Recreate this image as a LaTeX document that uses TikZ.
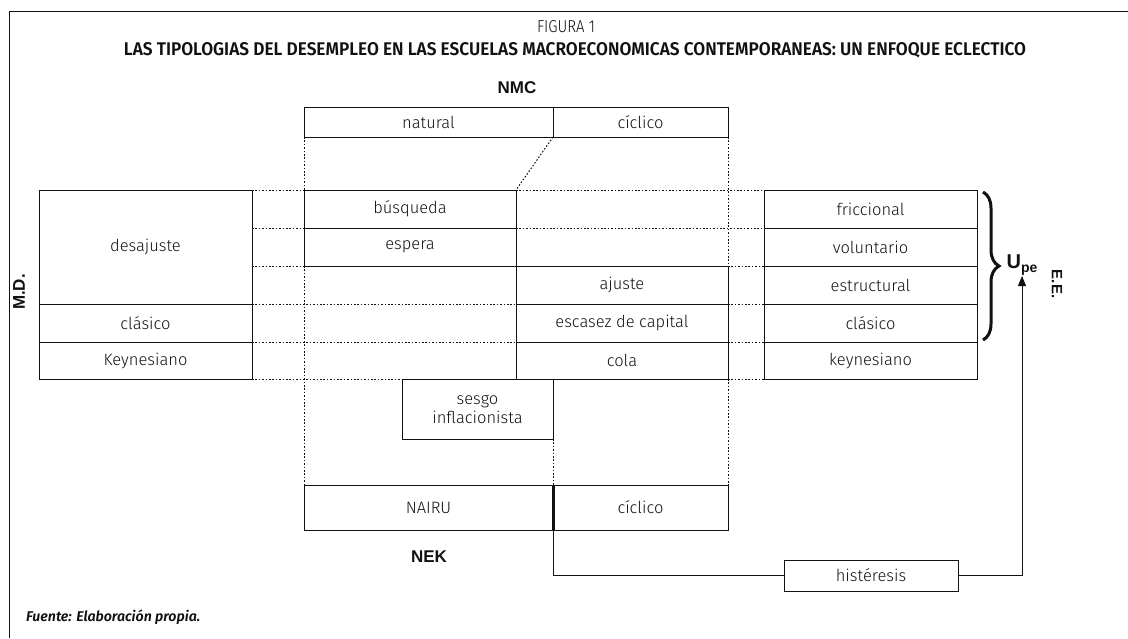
\documentclass[tikz,border=0pt]{standalone}
\usepackage{fontspec}
\setmainfont{Fira Sans Light}[BoldFont={Fira Sans SemiBold},ItalicFont={Fira Sans Light Italic},BoldItalicFont={Fira Sans SemiBold Italic}]
\newfontfamily\arl{Liberation Sans}
\usetikzlibrary{arrows.meta,decorations.pathreplacing}
\definecolor{ink}{HTML}{111111}
\tikzset{
  cell/.style={draw=ink, line width=0.9pt, inner sep=0pt, outer sep=0pt, align=center,
    text=ink, font=\fontsize{16.5}{18}\selectfont},
  guide/.style={draw=ink, line width=1pt, dash pattern=on 1.6pt off 1.8pt},
  solid line/.style={draw=ink, line width=0.9pt},
  lbl/.style={text=ink, inner sep=0pt, font=\arl\bfseries\fontsize{17}{19}\selectfont}
}
\begin{document}
\begin{tikzpicture}[x=1pt,y=-1pt]
\useasboundingbox (0,0) rectangle (1128,638);
% frame
\draw[solid line] (9,638) -- (9,11) -- (1128,11);
% titles
\node[text=ink, inner sep=0pt] (fig) at (566,27) {\resizebox{58pt}{12pt}{FIGURA 1}};
\node[text=ink, inner sep=0pt] (title) at (575,50.5) {\resizebox{902pt}{13pt}{\bfseries LAS TIPOLOGIAS DEL DESEMPLEO EN LAS ESCUELAS MACROECONOMICAS CONTEMPORANEAS: UN ENFOQUE ECLECTICO}};
\node[lbl] (nmc) at (517,88) {NMC};
\node[lbl] (nek) at (429,557) {NEK};
\node[lbl, rotate=90] (md) at (19,292) {M.D.};
\node[lbl, rotate=-90, font=\arl\bfseries\fontsize{15}{17}\selectfont] (ee) at (1057,284) {E.E.};
% top boxes
\node[cell, minimum width=249pt, minimum height=30pt] (nat) at (428.5,122) {natural};
\node[cell, minimum width=175pt, minimum height=30pt] (cic) at (640.5,122) {cíclico};
% left column
\node[cell, minimum width=213pt, minimum height=114pt] (des) at (145.5,247) {desajuste};
\node[cell, minimum width=213pt, minimum height=38pt] (clas) at (145.5,323) {clásico};
\node[cell, minimum width=213pt, minimum height=37pt] (key) at (145.5,360.5) {Keynesiano};
% middle left
\node[cell, minimum width=212pt, minimum height=38pt] (bus) at (410,209) {búsqueda};
\node[cell, minimum width=212pt, minimum height=38pt] (esp) at (410,247) {espera};
% middle right
\node[cell, minimum width=212pt, minimum height=38pt] (aju) at (622,285) {ajuste};
\node[cell, minimum width=212pt, minimum height=38pt] (esc) at (622,323) {escasez de capital};
\node[cell, minimum width=212pt, minimum height=37pt] (cola) at (622,360.5) {cola};
% right column
\node[cell, minimum width=213pt, minimum height=38pt] (fri) at (870.5,209) {friccional};
\node[cell, minimum width=213pt, minimum height=38pt] (vol) at (870.5,247) {voluntario};
\node[cell, minimum width=213pt, minimum height=38pt] (est) at (870.5,285) {estructural};
\node[cell, minimum width=213pt, minimum height=38pt] (cla2) at (870.5,323) {clásico};
\node[cell, minimum width=213pt, minimum height=37pt] (key2) at (870.5,360.5) {keynesiano};
% sesgo
\node[cell, minimum width=151pt, minimum height=60pt, font=\fontsize{16.5}{19}\selectfont] (ses) at (477.5,409) {sesgo\\inflacionista};
% bottom boxes
\node[cell, minimum width=249pt, minimum height=45pt] (nai) at (428.5,507.5) {NAIRU};
\node[cell, minimum width=175pt, minimum height=45pt] (cic2) at (640.5,507.5) {cíclico};
% histeresis
\node[cell, minimum width=174pt, minimum height=31pt] (his) at (871,575.5) {histéresis};
% U_pe
\node[text=ink, inner sep=0pt, anchor=south] (upe) at (1022,276) {\arl\bfseries\fontsize{20}{22}\selectfont U\raisebox{-4pt}{\fontsize{14}{16}\selectfont pe}};
% brace
\draw[draw=ink, line width=3pt, decorate, decoration={brace, amplitude=16pt, aspect=0.5}] (983,192) -- (983,340);
% guides vertical
\draw[guide] (nat.south west) -- (bus.north west);
\draw[guide] (esp.south west) -- (nai.north west);
\draw[guide] (cic.south east) -- (aju.north east);
\draw[guide] (cola.south east) -- (cic2.north east);
\draw[guide] (nat.south east) -- (bus.north east);
\draw[guide] (ses.south east) -- (nai.north east);
% guides horizontal
\draw[guide] (des.north east) -- (bus.north west);
\draw[guide] (bus.north east) -- (fri.north west);
\draw[guide] (bus.south west -| des.east) -- (bus.south west);
\draw[guide] (bus.south east) -- (vol.north west);
\draw[guide] (esp.south west -| des.east) -- (esp.south west);
\draw[guide] (aju.north east) -- (est.north west);
\draw[guide] (clas.north east) -- (esc.north west);
\draw[guide] (esc.north east) -- (cla2.north west);
\draw[guide] (key.north east) -- (cola.north west);
\draw[guide] (cola.north east) -- (key2.north west);
\draw[guide] (key.south east) -- (ses.north west);
\draw[guide] (cola.south east) -- (key2.south west);
% thick divider
\draw[draw=ink, line width=3pt] (nai.north east) -- (nai.south east);
% hysteresis connectors
\draw[solid line] (nai.south east) |- (his.west);
\draw[solid line, -{Triangle[length=10pt,width=8pt]}] (his.east) -| (upe.south);
% fuente
\node[text=ink, inner sep=0pt, anchor=west] (fue) at (26,617) {\resizebox{174pt}{!}{\bfseries\itshape Fuente: Elaboración propia.}};
\end{tikzpicture}
\end{document}
